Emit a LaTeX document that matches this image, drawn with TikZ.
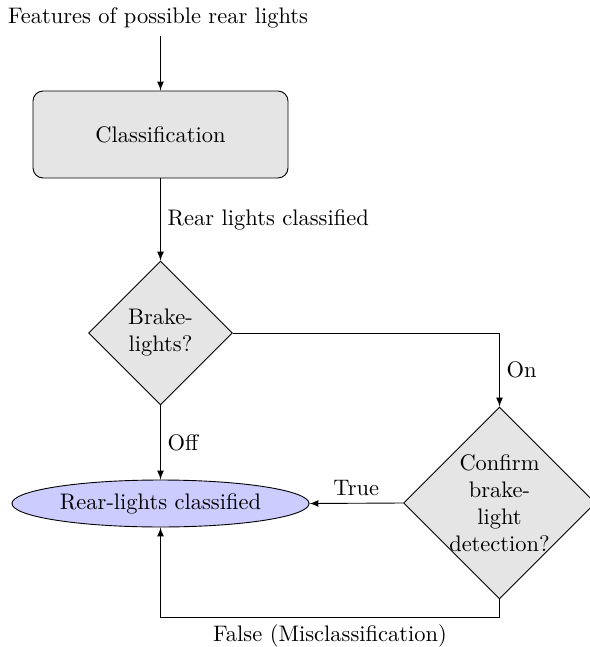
\documentclass[tikz,border=0pt]{standalone}
\usetikzlibrary{shapes.geometric,arrows}
\begin{document}
\begin{tikzpicture}[x=0.445pt,y=-0.445pt,
  >=latex,
  line/.style={draw,->,thin},
  procbox/.style={draw,rectangle,rounded corners=4.5pt,fill=gray!20,
    minimum width=113.5pt,minimum height=38.7pt,inner sep=0pt},
  decide/.style={draw,diamond,fill=gray!20,inner sep=0pt},
  result/.style={draw,ellipse,fill=blue!20,minimum width=132.2pt,
    minimum height=20.9pt,inner sep=0pt},
  lbl/.style={inner sep=3pt}]
\useasboundingbox (0,0) rectangle (589,647);

\node (in) at (158,18) {Features of possible rear lights};
\node[procbox] (cls) at (160.5,134.5) {Classification};
\node[decide,minimum width=64pt,minimum height=64pt,
  label={[align=center]center:Brake-\\lights?}] (brake) at (160.5,333) {};
\node[decide,minimum width=85.4pt,minimum height=85.4pt,
  label={[align=center]center:Confirm\\brake-\\light\\detection?}] (confirm) at (499.5,503) {};
\node[result] (rl) at (160.5,503.5) {Rear-lights classified};

\coordinate (start) at (in.south -| cls.north);
\coordinate (turn) at (499.5,333);
\coordinate (lowR) at (499.5,617);
\coordinate (lowL) at (160.5,617);

\draw[line] (start) -- (cls);
\draw[line] (cls) -- node[lbl,right] {Rear lights classified} (brake);
\draw[line] (brake.east) -- (turn) -- node[lbl,right] {On} (confirm.north);
\draw[line] (brake) -- node[lbl,right] {Off} (rl);
\draw[line] (confirm.west) -- node[lbl,above] {True} (rl.east);
\draw[line] (confirm.south) -- (lowR) -- node[lbl,below] {False (Misclassification)} (lowL) -- (rl.south);
\end{tikzpicture}
\end{document}
